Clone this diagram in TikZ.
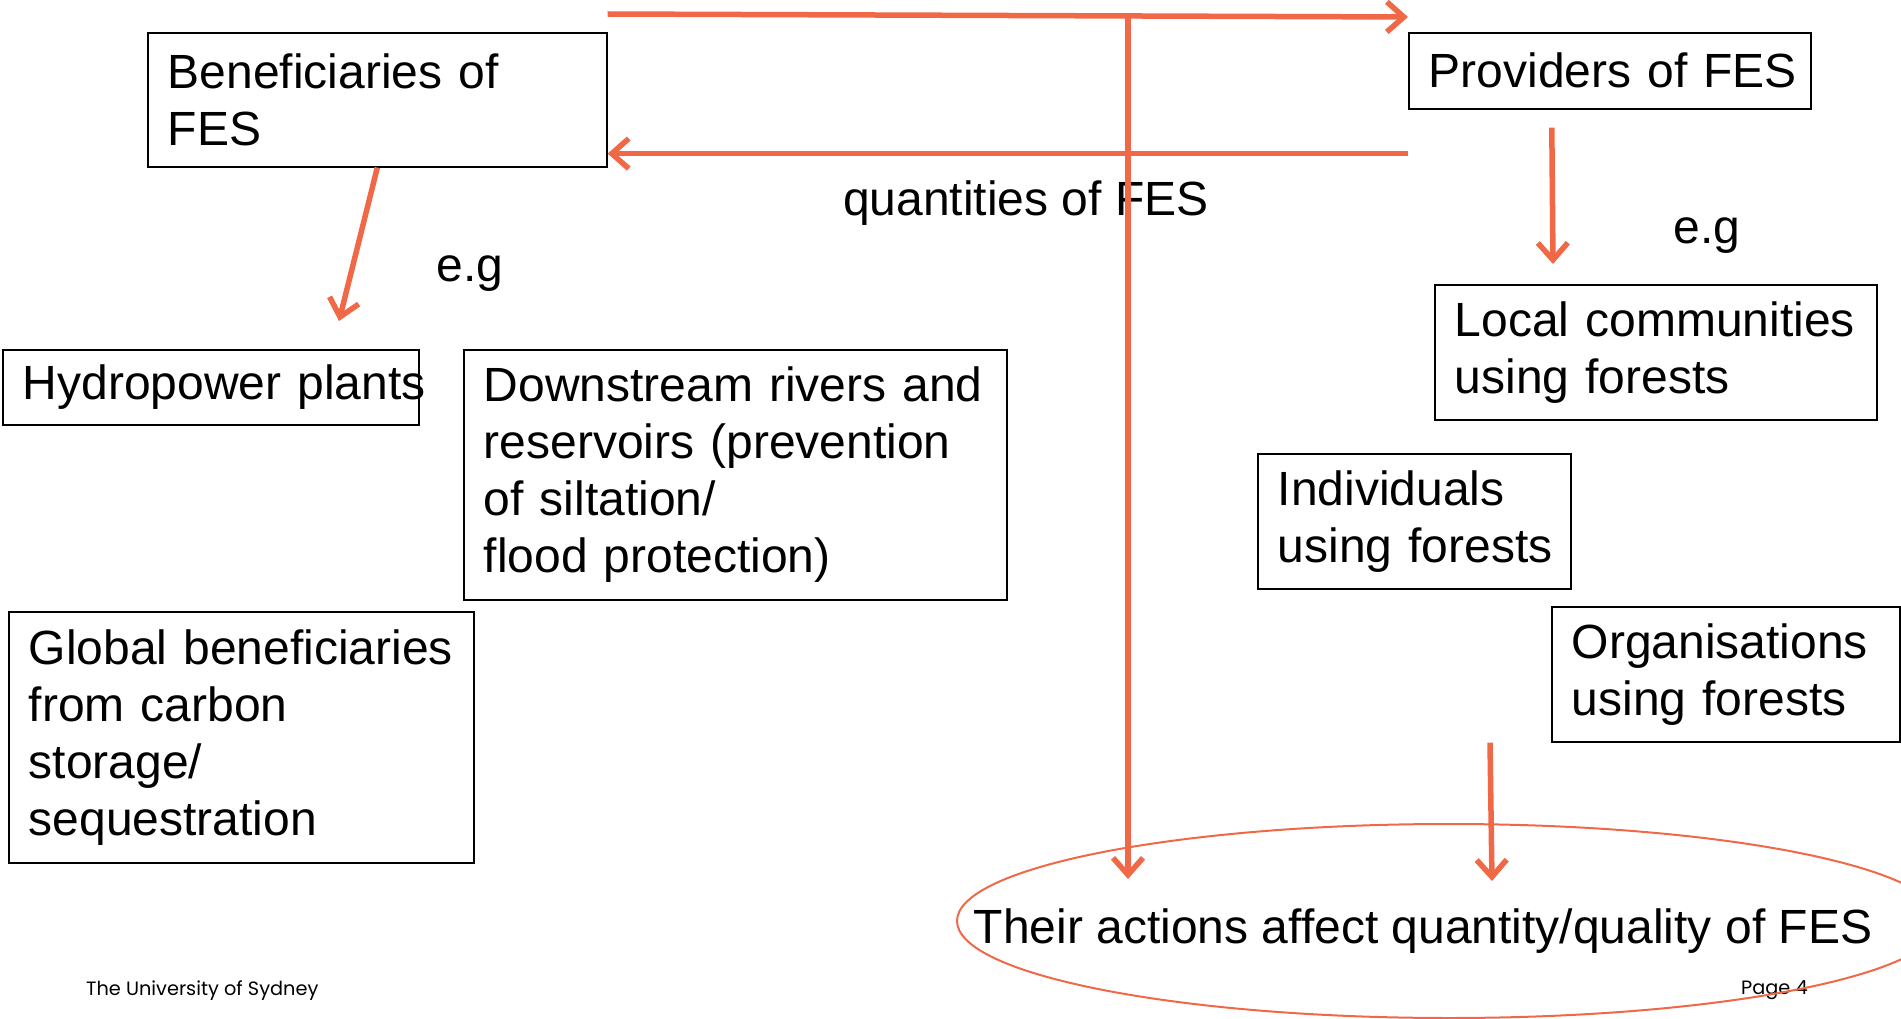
\documentclass[tikz,border=0pt]{standalone}
\usepackage{fontspec}
\setmainfont{Liberation Sans}
\newfontfamily\footfont{Poppins}
\usetikzlibrary{arrows.meta}

\definecolor{fesorange}{RGB}{240,104,70}
\newcommand{\fesfont}{\fontsize{48}{57}\selectfont}
\newcommand{\fesfoot}{\footfont\fontsize{19.3}{22}\selectfont}

\begin{document}
\begin{tikzpicture}[x=1pt,y=-1pt,
  fesbox/.style={draw,line width=1.6pt,anchor=north west,inner xsep=20pt,inner ysep=0pt,align=left,font=\fesfont},
  flow/.style={fesorange,line width=5.5pt,-{Straight Barb[length=17pt,width=30pt]}},
  ring/.style={draw=fesorange,line width=2pt}]
\useasboundingbox (0,0) rectangle (1901,1019);

\coordinate (split) at (1128,16);
\coordinate (fall) at (1128,879);
\coordinate (hydrotip) at (339,321);
\coordinate (localtip) at (1553,264);
\coordinate (orgtip) at (1492,881);

% boxes
\node[fesbox,text width=419pt,minimum height=134pt] (benef) at (147,32) {Beneficiaries of\\FES};
\node[fesbox,text width=362pt,minimum height=76pt] (prov) at (1408,32) {\mbox{Providers of FES}};
\node[fesbox,text width=376pt,minimum height=75pt] (hydro) at (2,349) {\mbox{Hydropower plants}};
\node[fesbox,text width=503pt,minimum height=250pt] (down) at (463,349) {Downstream rivers and\\reservoirs (prevention\\of siltation/\\flood protection)};
\node[fesbox,text width=425pt,minimum height=251pt] (global) at (8,611) {Global beneficiaries\\from carbon\\storage/\\sequestration};
\node[fesbox,text width=402pt,minimum height=135pt] (local) at (1434,284) {\mbox{Local communities}\\\mbox{using forests}};
\node[fesbox,text width=273pt,minimum height=135pt] (indiv) at (1257,453) {Individuals\\\mbox{using forests}};
\node[fesbox,text width=308pt,minimum height=135pt] (org) at (1551,606) {Organisations\\\mbox{using forests}};

% labels
\node[font=\fesfont] (qty) at (1026,203) {quantities of FES};
\node[font=\fesfont] (egleft) at (470,274) {e.g};
\node[font=\fesfont] (egright) at (1707,236) {e.g};
\node[font=\fesfont] (effect) at (1423,931) {Their actions affect quantity/quality of FES};
\node[font=\fesfoot,anchor=base west,inner sep=0pt] (uni) at (86,995) {The University of Sydney};
\node[font=\fesfoot,anchor=base west,inner sep=0pt] (page) at (1741,994) {Page 4};

\draw[ring] (1449,921) ellipse [x radius=492pt, y radius=97pt];

% flows
\draw[flow] ([yshift=18pt]benef.north east) -- ([yshift=15pt]prov.north west);
\coordinate (ret) at ([yshift=-44pt]prov.south west);
\draw[flow] (ret) -- (ret -| benef.east);
\draw[flow] (split) -- (fall);
\draw[flow] (benef.south) -- (hydrotip);
\draw[flow] ([xshift=-58pt,yshift=-18pt]prov.south) -- (localtip);
\draw[flow] ([xshift=-61pt]org.south west) -- (orgtip);
\end{tikzpicture}
\end{document}
